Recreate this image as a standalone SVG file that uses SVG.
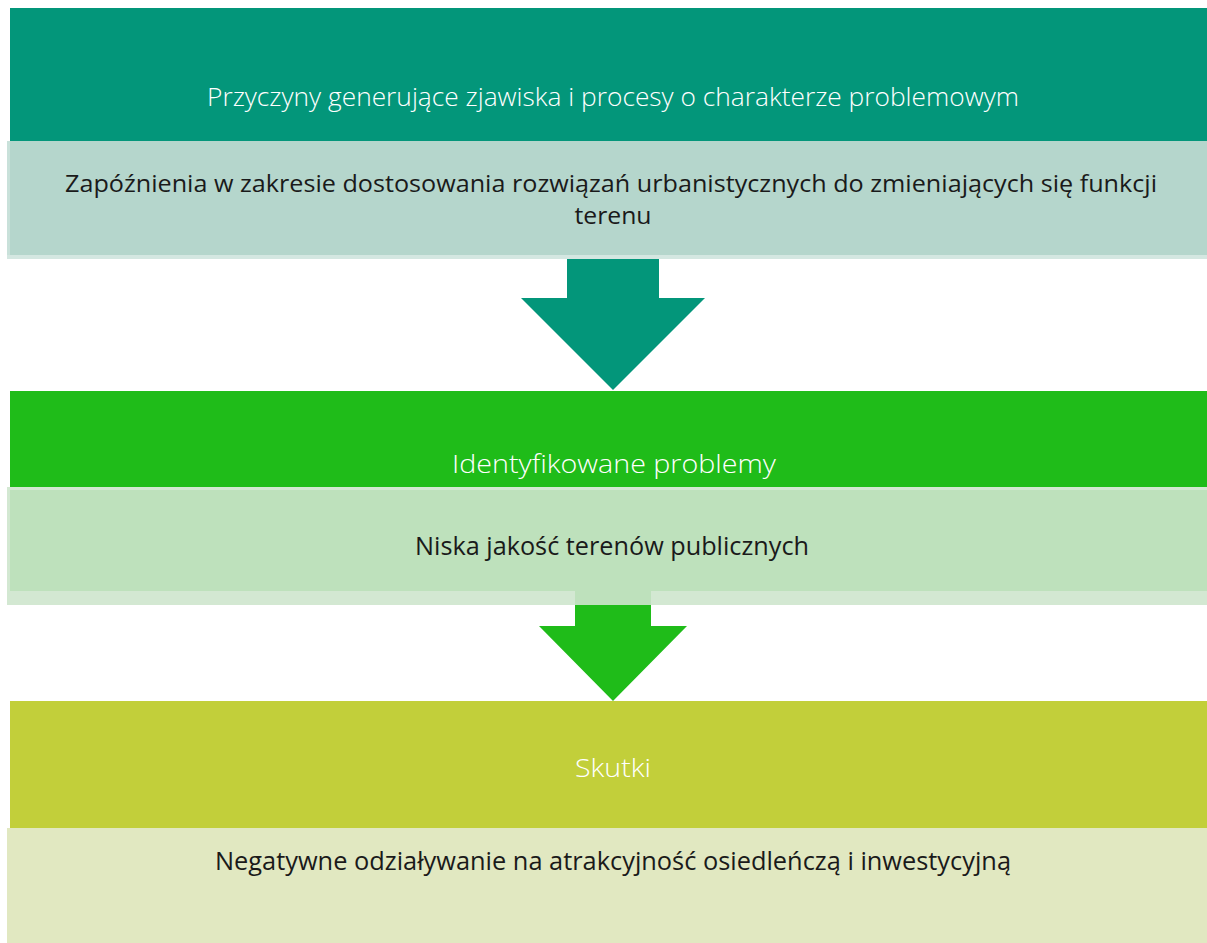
<svg xmlns="http://www.w3.org/2000/svg" width="1207" height="943" viewBox="0 0 1207 943">
<style>
.t{font-family:"Open Sans","Noto Sans","Liberation Sans",sans-serif;font-size:26px;text-anchor:middle}
.w{fill:#ffffff;font-weight:300}
.d{fill:#1a1a1a;font-weight:400}
.s{font-size:23px}
</style>
<rect width="1207" height="943" fill="#ffffff"/>
<g id="connectors">
<polygon points="567,259 659,259 659,298 705,298 613,390 521,298 567,298" fill="#03967A"/>
<polygon points="575,590 651,590 651,626 687,626 613,701 539,626 575,626" fill="#1FBC19"/>
</g>
<g id="header1">
<rect x="10" y="8" width="1197" height="133" fill="#03967A"/>
<text class="t w" x="613" y="106" textLength="812" lengthAdjust="spacingAndGlyphs">Przyczyny generujące zjawiska i procesy o charakterze problemowym</text>
</g>
<g id="box1">
<rect x="7" y="141" width="1200" height="118" fill="#B5D6CC"/>
<rect x="7" y="141" width="3" height="118" fill="#C9E1DA"/>
<rect x="7" y="255" width="1200" height="4" fill="#D4E7E1"/>
<text class="t d s" x="611" y="192" textLength="1092" lengthAdjust="spacingAndGlyphs">Zapóźnienia w zakresie dostosowania rozwiązań urbanistycznych do zmieniających się funkcji</text>
<text class="t d s" x="613" y="224" textLength="77" lengthAdjust="spacingAndGlyphs">terenu</text>
</g>
<g id="header2">
<rect x="10" y="391" width="1197" height="96" fill="#1FBC19"/>
<text class="t w" x="614" y="473" textLength="324" lengthAdjust="spacingAndGlyphs">Identyfikowane problemy</text>
</g>
<g id="box2">
<rect x="7" y="487" width="1200" height="118" fill="#D3E8D2"/>
<rect x="10" y="490" width="1197" height="101" fill="#BEE1BC"/>
<rect x="575" y="590" width="76" height="15" fill="#BEE1BC"/>
<text class="t d" x="612" y="555" textLength="394" lengthAdjust="spacingAndGlyphs">Niska jakość terenów publicznych</text>
</g>
<g id="header3">
<rect x="10" y="701" width="1197" height="127" fill="#C2CF3A"/>
<text class="t w" x="613" y="777" textLength="76" lengthAdjust="spacingAndGlyphs">Skutki</text>
</g>
<g id="box3">
<rect x="7" y="828" width="1200" height="115" fill="#E1E8C1"/>
<text class="t d" x="613" y="870" textLength="796" lengthAdjust="spacingAndGlyphs">Negatywne odziaływanie na atrakcyjność osiedleńczą i inwestycyjną</text>
</g>
</svg>
